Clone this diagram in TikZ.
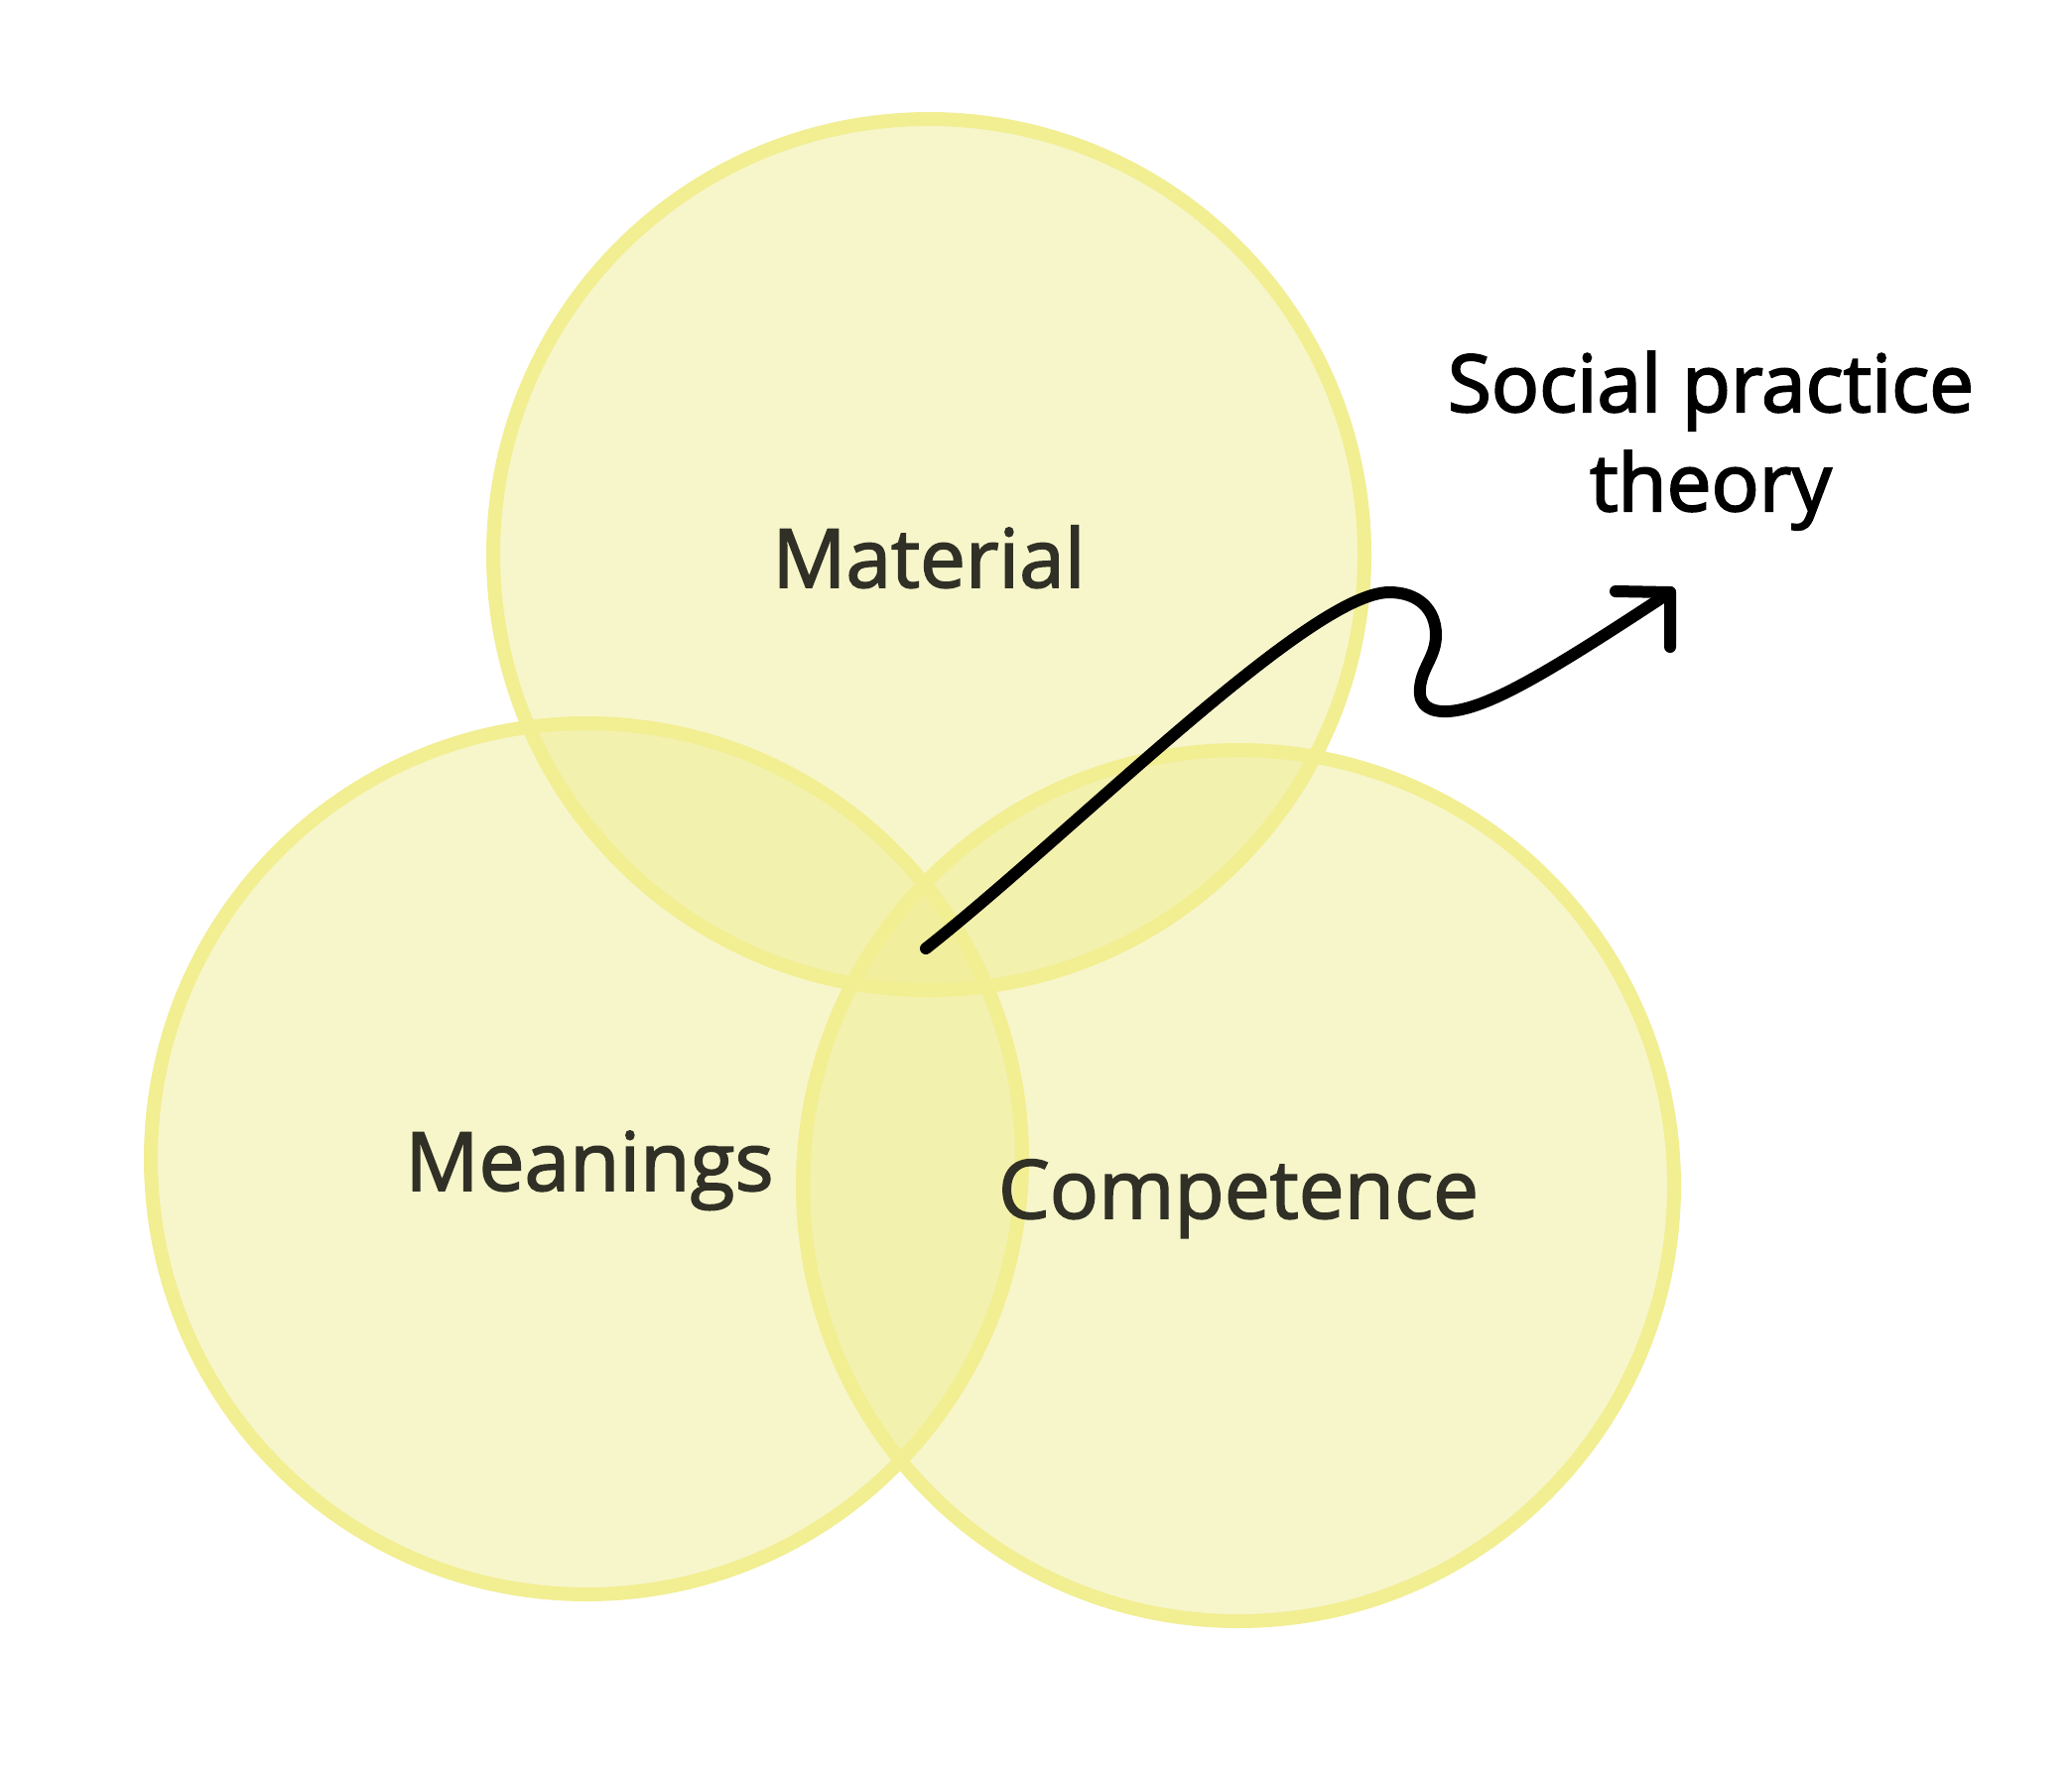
\documentclass[tikz,border=0pt]{standalone}
\usepackage{fontspec}
\setmainfont{Open Sans}
\newfontfamily\labelfont{Open Sans}[FakeBold=2]
\newfontfamily\boldish{Open Sans}[FakeBold=2.5]
\definecolor{yfill}{RGB}{239,235,137}
\definecolor{ystroke}{RGB}{242,238,146}
\definecolor{labelgray}{RGB}{48,48,38}
\tikzset{
  vennfill/.style={fill=yfill, fill opacity=0.44},
  vennline/.style={draw=ystroke, line width=14pt},
  vlabel/.style={anchor=base, text=labelgray, font=\labelfont\fontsize{82}{98}\selectfont, inner sep=0pt},
  titlelabel/.style={anchor=base, text=black, align=center, font=\boldish\fontsize{80}{100}\selectfont, inner sep=0pt},
  arrowline/.style={draw=black, line width=12pt, line cap=round, line join=round}
}
\begin{document}
\begin{tikzpicture}[x=1pt,y=-1pt]
\useasboundingbox (0,0) rectangle (2088,1780);
\fill[white] (0,0) rectangle (2088,1780);
% circles
\coordinate (mat) at (936,559);
\coordinate (mea) at (591,1168);
\coordinate (com) at (1248,1195);
\fill[vennfill] (mat) circle[radius=439pt];
\fill[vennfill] (mea) circle[radius=439pt];
\fill[vennfill] (com) circle[radius=439pt];
\draw[vennline] (mat) circle[radius=439pt];
\draw[vennline] (mea) circle[radius=439pt];
\draw[vennline] (com) circle[radius=439pt];
% labels
\node[vlabel] (lmat) at (936,592) {Material};
\node[vlabel] (lmea) at (594,1200) {Meanings};
\node[vlabel] (lcom) at (1248,1228) {Competence};
\node[titlelabel] (title) at (1724,515) {Social practice\\theory};
% arrow
\coordinate (s) at (933,956);
\coordinate (c) at (1400,597);
\coordinate (d) at (1447,640);
\coordinate (e) at (1431,693);
\coordinate (f) at (1460,717);
\coordinate (tip) at (1683,597);
\coordinate (hl) at (1628,596);
\coordinate (hd) at (1683,652);
\draw[arrowline] (s) .. controls (1080,840) and (1320,597) .. (c)
  .. controls (1430,597) and (1447,615) .. (d)
  .. controls (1447,662) and (1433,672) .. (e)
  .. controls (1429,712) and (1442,718) .. (f)
  .. controls (1500,714) and (1560,678) .. (tip);
\draw[arrowline] (hl) -- (tip) -- (hd);
\end{tikzpicture}
\end{document}
